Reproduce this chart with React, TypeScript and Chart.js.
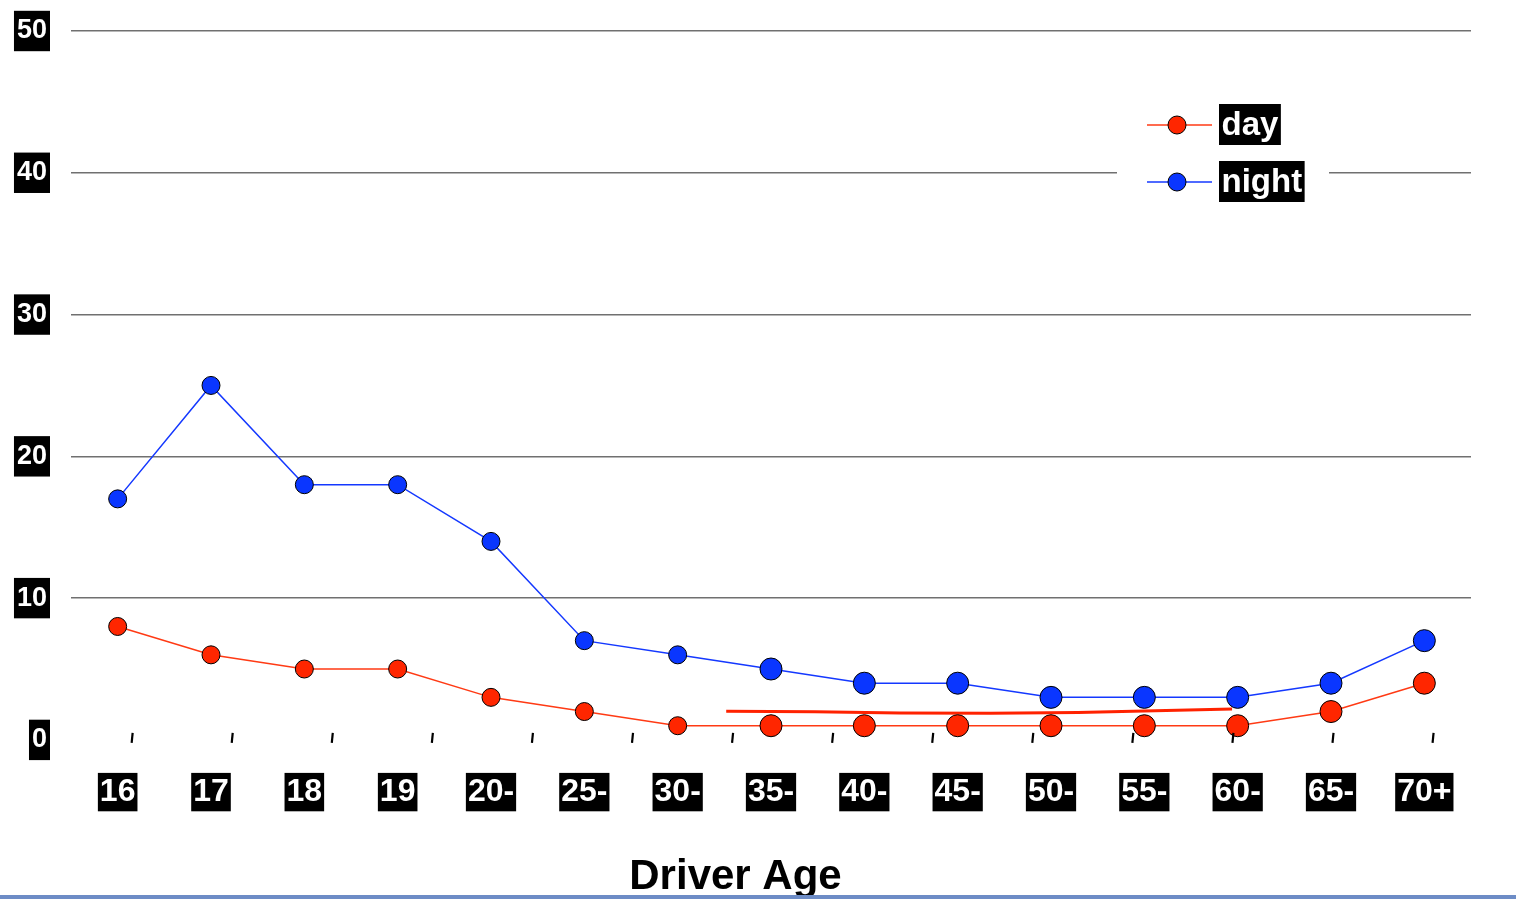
import React, { useEffect, useRef } from 'react';
import { Chart, registerables } from 'chart.js';

Chart.register(...registerables);

// Driver age bands and crash rates by time of day
const ages = ['16', '17', '18', '19', '20-', '25-', '30-', '35-', '40-', '45-', '50-', '55-', '60-', '65-', '70+'];
const dayRate = [8, 6, 5, 5, 3, 2, 1, 1, 1, 1, 1, 1, 1, 2, 4];
const nightRate = [17, 25, 18, 18, 14, 7, 6, 5, 4, 4, 3, 3, 3, 4, 7];

// Freehand red stroke drawn over the day series (x in age-band units)
const strokeX = [6.52, 7.47, 8.38, 9.35, 10.29, 11.94];
const strokeY = [2.02, 1.99, 1.9, 1.88, 1.94, 2.18];

// Small marks along the baseline
const baseMarks = [1, 2, 3, 4, 5, 6, 7, 8, 9, 10, 11, 12, 13, 14];

const FONT = '"Liberation Sans", Arial, sans-serif';
const DAY_LINE = '#ff3a14';
const DAY_FILL = '#ff2600';
const NIGHT_LINE = '#1438ff';
const NIGHT_FILL = '#0a36ff';

const markerRadius = ages.map((_, i) => (i < 7 ? 9 : 11));

const baseMarksPlugin = {
  id: 'baseMarks',
  afterDatasetsDraw(chart: any) {
    const { ctx } = chart;
    const xt = chart.scales.xt;
    const y0 = chart.scales.y.getPixelForValue(0);
    ctx.save();
    ctx.strokeStyle = '#000';
    ctx.lineWidth = 2.2;
    baseMarks.forEach((m) => {
      const x = xt.getPixelForValue(m);
      ctx.beginPath();
      ctx.moveTo(x + 0.6, y0 - 7);
      ctx.lineTo(x - 0.4, y0 + 3);
      ctx.stroke();
    });
    ctx.restore();
  },
};

const boxLegendPlugin = {
  id: 'boxLegend',
  afterDraw(chart: any) {
    const { ctx } = chart;
    ctx.save();
    ctx.fillStyle = '#fff';
    ctx.fillRect(1117, 92, 212, 124);
    const rows = [
      { ds: chart.data.datasets[0], y: 125 },
      { ds: chart.data.datasets[1], y: 182 },
    ];
    rows.forEach(({ ds, y }) => {
      ctx.strokeStyle = ds.borderColor;
      ctx.lineWidth = 1.5;
      ctx.beginPath();
      ctx.moveTo(1147, y);
      ctx.lineTo(1212, y);
      ctx.stroke();
      ctx.beginPath();
      ctx.arc(1177, y, 9, 0, Math.PI * 2);
      ctx.fillStyle = ds.pointBackgroundColor;
      ctx.fill();
      ctx.strokeStyle = '#000';
      ctx.lineWidth = 1;
      ctx.stroke();
      ctx.font = `bold 33px ${FONT}`;
      const w = ctx.measureText(ds.label).width;
      ctx.fillStyle = '#000';
      ctx.fillRect(1219, y - 21, w + 5, 41);
      ctx.fillStyle = '#fff';
      ctx.textBaseline = 'middle';
      ctx.textAlign = 'left';
      ctx.fillText(ds.label, 1221.5, y + 1);
    });
    ctx.restore();
  },
};

export default function App() {
  const canvasRef = useRef<HTMLCanvasElement | null>(null);

  useEffect(() => {
    if (!canvasRef.current) return;
    Chart.defaults.font.family = FONT;
    const chart = new Chart(canvasRef.current, {
      type: 'line',
      data: {
        labels: ages,
        datasets: [
          {
            label: 'day',
            data: dayRate,
            borderColor: DAY_LINE,
            borderWidth: 1.5,
            pointBackgroundColor: DAY_FILL,
            pointBorderColor: '#000',
            pointBorderWidth: 1,
            pointRadius: markerRadius,
            pointStyle: 'circle',
            xAxisID: 'x',
            yAxisID: 'y',
          },
          {
            label: 'night',
            data: nightRate,
            borderColor: NIGHT_LINE,
            borderWidth: 1.5,
            pointBackgroundColor: NIGHT_FILL,
            pointBorderColor: '#000',
            pointBorderWidth: 1,
            pointRadius: markerRadius,
            pointStyle: 'circle',
            xAxisID: 'x',
            yAxisID: 'y',
          },
          {
            label: 'stroke',
            data: strokeX.map((x, i) => ({ x, y: strokeY[i] })),
            borderColor: '#ff2200',
            borderWidth: 3,
            pointRadius: 0,
            xAxisID: 'xs',
            yAxisID: 'y',
          },
        ],
      },
      options: {
        animation: false,
        responsive: false,
        events: [],
        layout: { padding: { left: 0, right: 45, top: 31, bottom: 0 } },
        plugins: {
          legend: { display: false },
          tooltip: { enabled: false },
          title: {
            display: true,
            position: 'bottom',
            text: 'Driver Age',
            color: '#000',
            font: { size: 42, weight: 'bold', family: FONT, lineHeight: 1.05 },
            padding: { top: 0, bottom: 0 },
          },
        },
        scales: {
          x: {
            type: 'category',
            offset: true,
            grid: { display: false, drawTicks: false },
            border: { display: false },
            ticks: {
              color: '#fff',
              font: { size: 32, weight: 'bold', family: FONT },
              padding: 33,
              autoSkip: false,
              maxRotation: 0,
              showLabelBackdrop: true,
              backdropColor: '#000',
              backdropPadding: { top: 0, bottom: 0, left: 2, right: 2 },
            },
            afterFit: (s: any) => {
              s.height = 115;
            },
          },
          xs: { type: 'linear', display: false, min: -0.5, max: 14.5 },
          xt: { type: 'linear', display: false, min: 0.39, max: 14.38 },
          y: {
            min: 0,
            max: 50,
            ticks: {
              stepSize: 10,
              color: '#fff',
              font: { size: 27, weight: 'bold', family: FONT },
              padding: 24,
              showLabelBackdrop: true,
              backdropColor: '#000',
              backdropPadding: { top: 4, bottom: 4, left: 3, right: 3 },
            },
            grid: {
              color: (c: any) => (c.tick && c.tick.value === 0 ? 'rgba(0,0,0,0)' : '#707070'),
              lineWidth: 1.5,
              drawTicks: false,
            },
            border: { display: false },
            afterFit: (s: any) => {
              s.width = 71;
              s.paddingTop = 0;
              s.paddingBottom = 0;
            },
          },
        },
      },
      plugins: [baseMarksPlugin, boxLegendPlugin],
    } as any);
    return () => chart.destroy();
  }, []);

  return (
    <div style={{ position: 'absolute', left: 0, top: 0, width: 1516, height: 899, background: '#fff' }}>
      <canvas ref={canvasRef} width={1516} height={899} style={{ display: 'block' }} />
      <div style={{ position: 'absolute', left: 0, top: 895, width: 1516, height: 4, background: '#6d8cc6' }} />
    </div>
  );
}
